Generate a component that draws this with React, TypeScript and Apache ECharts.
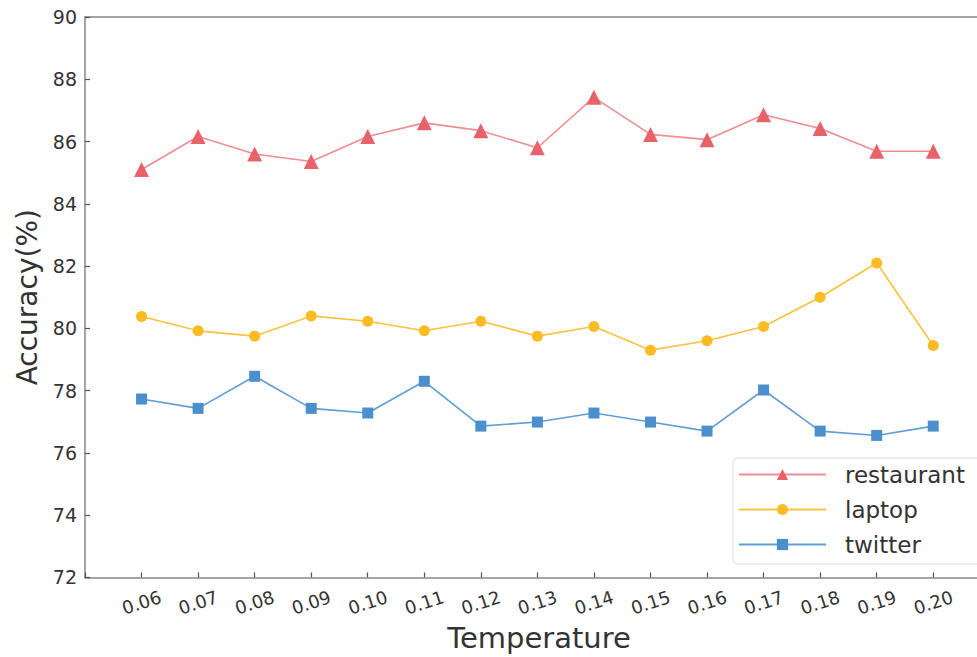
import React, { useEffect, useRef } from "react";
import * as echarts from "echarts";

const temperatures = [0.06, 0.07, 0.08, 0.09, 0.1, 0.11, 0.12, 0.13, 0.14, 0.15, 0.16, 0.17, 0.18, 0.19, 0.2];
const restaurant = [85.1, 86.16, 85.6, 85.36, 86.16, 86.6, 86.35, 85.8, 87.42, 86.23, 86.06, 86.86, 86.42, 85.69, 85.69];
const laptop = [80.38, 79.92, 79.75, 80.4, 80.23, 79.92, 80.23, 79.75, 80.06, 79.3, 79.6, 80.06, 81.0, 82.1, 79.45];
const twitter = [77.73, 77.43, 78.46, 77.43, 77.28, 78.3, 76.86, 76.99, 77.28, 76.99, 76.7, 78.02, 76.7, 76.56, 76.86];
const seriesNames = ["restaurant", "laptop", "twitter"];

const FONT = "DejaVu Sans";
const AXIS = "#878787";

export default function App() {
  const ref = useRef<HTMLDivElement>(null);
  useEffect(() => {
    if (!ref.current) return;
    const chart = echarts.init(ref.current, undefined, { renderer: "svg" });
    const pair = (arr: number[]) => arr.map((v, i) => [temperatures[i], v]);
    const mk = (name: string, data: number[], symbol: string, size: number, marker: string, line: string) => ({
      name,
      type: "line",
      data: pair(data),
      symbol,
      symbolSize: size,
      showSymbol: true,
      itemStyle: { color: marker, borderWidth: 0 },
      lineStyle: { color: line, width: 1.6 },
      emphasis: { disabled: true },
      z: 3,
    });
    chart.setOption({
      animation: false,
      backgroundColor: "#ffffff",
      grid: { left: 85, top: 17, right: 0, bottom: 78, show: false },
      legend: {
        data: seriesNames,
        orient: "vertical",
        left: 733,
        top: 458,
        padding: [5, 30, 8, 5],
        itemWidth: 87,
        itemHeight: 14,
        itemGap: 12,
        backgroundColor: "#ffffff",
        borderColor: "#dddddd",
        borderWidth: 1,
        borderRadius: 4,
        textStyle: { fontFamily: FONT, fontSize: 23, color: "#333333", padding: [0, 0, 0, 14] },
      },
      xAxis: [
        {
          type: "value",
          min: 0.05,
          max: 0.20774,
          interval: 0.01,
          name: "Temperature",
          nameLocation: "middle",
          nameGap: 45,
          nameTextStyle: { fontFamily: FONT, fontSize: 29, color: "#333333", padding: [0, 0, 0, 16] },
          axisLine: { show: true, lineStyle: { color: AXIS, width: 1.5 } },
          axisTick: { show: true, inside: true, length: 5, lineStyle: { color: "#555555", width: 1.2 } },
          splitLine: { show: false },
          axisLabel: {
            rotate: 18,
            align: "center",
            verticalAlign: "middle",
            margin: 25,
            fontFamily: FONT,
            fontSize: 18,
            color: "#333333",
            showMaxLabel: false,
            formatter: (v: number) => (Math.abs(v - 0.05) < 1e-6 ? "" : v.toFixed(2)),
          },
        },
        {
          type: "value",
          position: "top",
          min: 0.05,
          max: 0.20774,
          axisLine: { show: true, onZero: false, lineStyle: { color: AXIS, width: 1.5 } },
          axisTick: { show: false },
          axisLabel: { show: false },
          splitLine: { show: false },
        },
      ],
      yAxis: {
        type: "value",
        min: 72,
        max: 90,
        interval: 2,
        name: "Accuracy(%)",
        nameLocation: "middle",
        nameGap: 41,
        nameTextStyle: { fontFamily: FONT, fontSize: 28, color: "#333333" },
        axisLine: { show: true, lineStyle: { color: AXIS, width: 1.5 } },
        axisTick: { show: true, inside: true, length: 5, lineStyle: { color: "#555555", width: 1.2 } },
        splitLine: { show: false },
        axisLabel: { margin: 8, fontFamily: FONT, fontSize: 19, color: "#333333" },
      },
      series: [
        mk("restaurant", restaurant, "triangle", 15, "#e9626a", "#f08d91"),
        mk("laptop", laptop, "circle", 11, "#fbbb25", "#fbc23e"),
        mk("twitter", twitter, "rect", 11, "#4b8fcd", "#5f9dd5"),
      ],
    });
    return () => chart.dispose();
  }, []);
  return <div ref={ref} style={{ position: "absolute", left: 0, top: 0, width: 977, height: 657 }} />;
}
